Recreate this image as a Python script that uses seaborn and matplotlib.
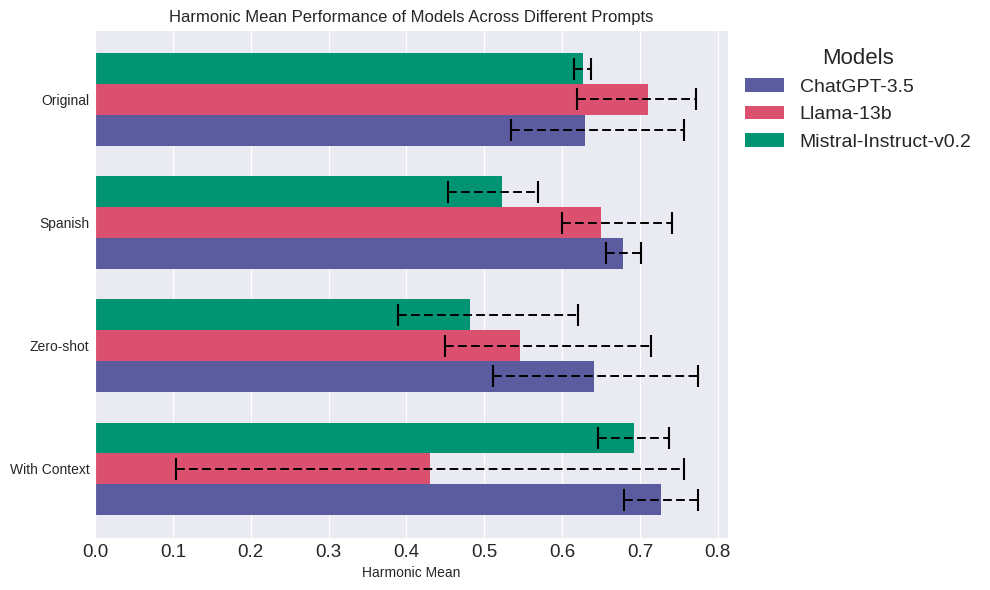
import numpy as np
import pandas as pd
import matplotlib
matplotlib.use("Agg")
import matplotlib.pyplot as plt
import seaborn as sns

prompts = ["Original", "Spanish", "Zero-shot", "With Context"]
models = ["ChatGPT-3.5", "Llama-13b", "Mistral-Instruct-v0.2"]

chatgpt_mean = [0.629, 0.678, 0.641, 0.727]
chatgpt_low = [0.534, 0.656, 0.511, 0.679]
chatgpt_high = [0.756, 0.702, 0.774, 0.774]

llama_mean = [0.711, 0.650, 0.546, 0.430]
llama_low = [0.619, 0.600, 0.450, 0.104]
llama_high = [0.772, 0.741, 0.714, 0.756]

mistral_mean = [0.627, 0.523, 0.482, 0.692]
mistral_low = [0.615, 0.453, 0.389, 0.646]
mistral_high = [0.637, 0.569, 0.620, 0.737]

colors = {"ChatGPT-3.5": "#5B5B9F", "Llama-13b": "#DA506E", "Mistral-Instruct-v0.2": "#009473"}

means = {"ChatGPT-3.5": chatgpt_mean, "Llama-13b": llama_mean, "Mistral-Instruct-v0.2": mistral_mean}
lows = {"ChatGPT-3.5": chatgpt_low, "Llama-13b": llama_low, "Mistral-Instruct-v0.2": mistral_low}
highs = {"ChatGPT-3.5": chatgpt_high, "Llama-13b": llama_high, "Mistral-Instruct-v0.2": mistral_high}

rows = []
for m in models:
    for p, v in zip(prompts, means[m]):
        rows.append({"Prompt": p, "Model": m, "Value": v})
df = pd.DataFrame(rows)

sns.set_style("darkgrid")
plt.rcParams["font.family"] = ["Liberation Sans", "DejaVu Sans"]

fig = plt.figure(figsize=(9.9, 5.9), dpi=100)
ax = fig.add_axes([0.096, 0.088, 0.639, 0.861])

hue_order = ["Mistral-Instruct-v0.2", "Llama-13b", "ChatGPT-3.5"]
sns.barplot(data=df, y="Prompt", x="Value", hue="Model", order=prompts,
            hue_order=hue_order, palette=colors, orient="h", width=0.75,
            errorbar=None, saturation=1, linewidth=0, ax=ax)

bar_h = 0.25
for j, m in enumerate(hue_order):
    ypos = np.arange(len(prompts)) + (j - 1) * bar_h
    lo = np.array(lows[m])
    hi = np.array(highs[m])
    mid = (lo + hi) / 2
    half = (hi - lo) / 2
    _, caps, bars = ax.errorbar(mid, ypos, xerr=half, fmt="none", ecolor="black",
                                elinewidth=1.4, capsize=8, capthick=1.5, zorder=5)
    for b in bars:
        b.set_linestyle((0, (4.5, 2.2)))

allhigh = max(max(chatgpt_high), max(llama_high), max(mistral_high))
ax.set_xlim(0, allhigh * 1.05)
ax.set_ylim(3.5625, -0.5625)

ax.set_title("Harmonic Mean Performance of Models Across Different Prompts", fontsize=12)
ax.set_xlabel("Harmonic Mean", fontsize=10)
ax.set_ylabel("")
ax.tick_params(axis="both", length=0, pad=4)
ax.tick_params(axis="x", labelsize=13.5)
ax.tick_params(axis="y", labelsize=10)

handles, labels = ax.get_legend_handles_labels()
ax.legend(handles[::-1], labels[::-1], title="Models", loc="upper left",
          bbox_to_anchor=(1.0, 1.0), frameon=False, fontsize=14, title_fontsize=16)

fig.savefig("out.png", dpi=100)
